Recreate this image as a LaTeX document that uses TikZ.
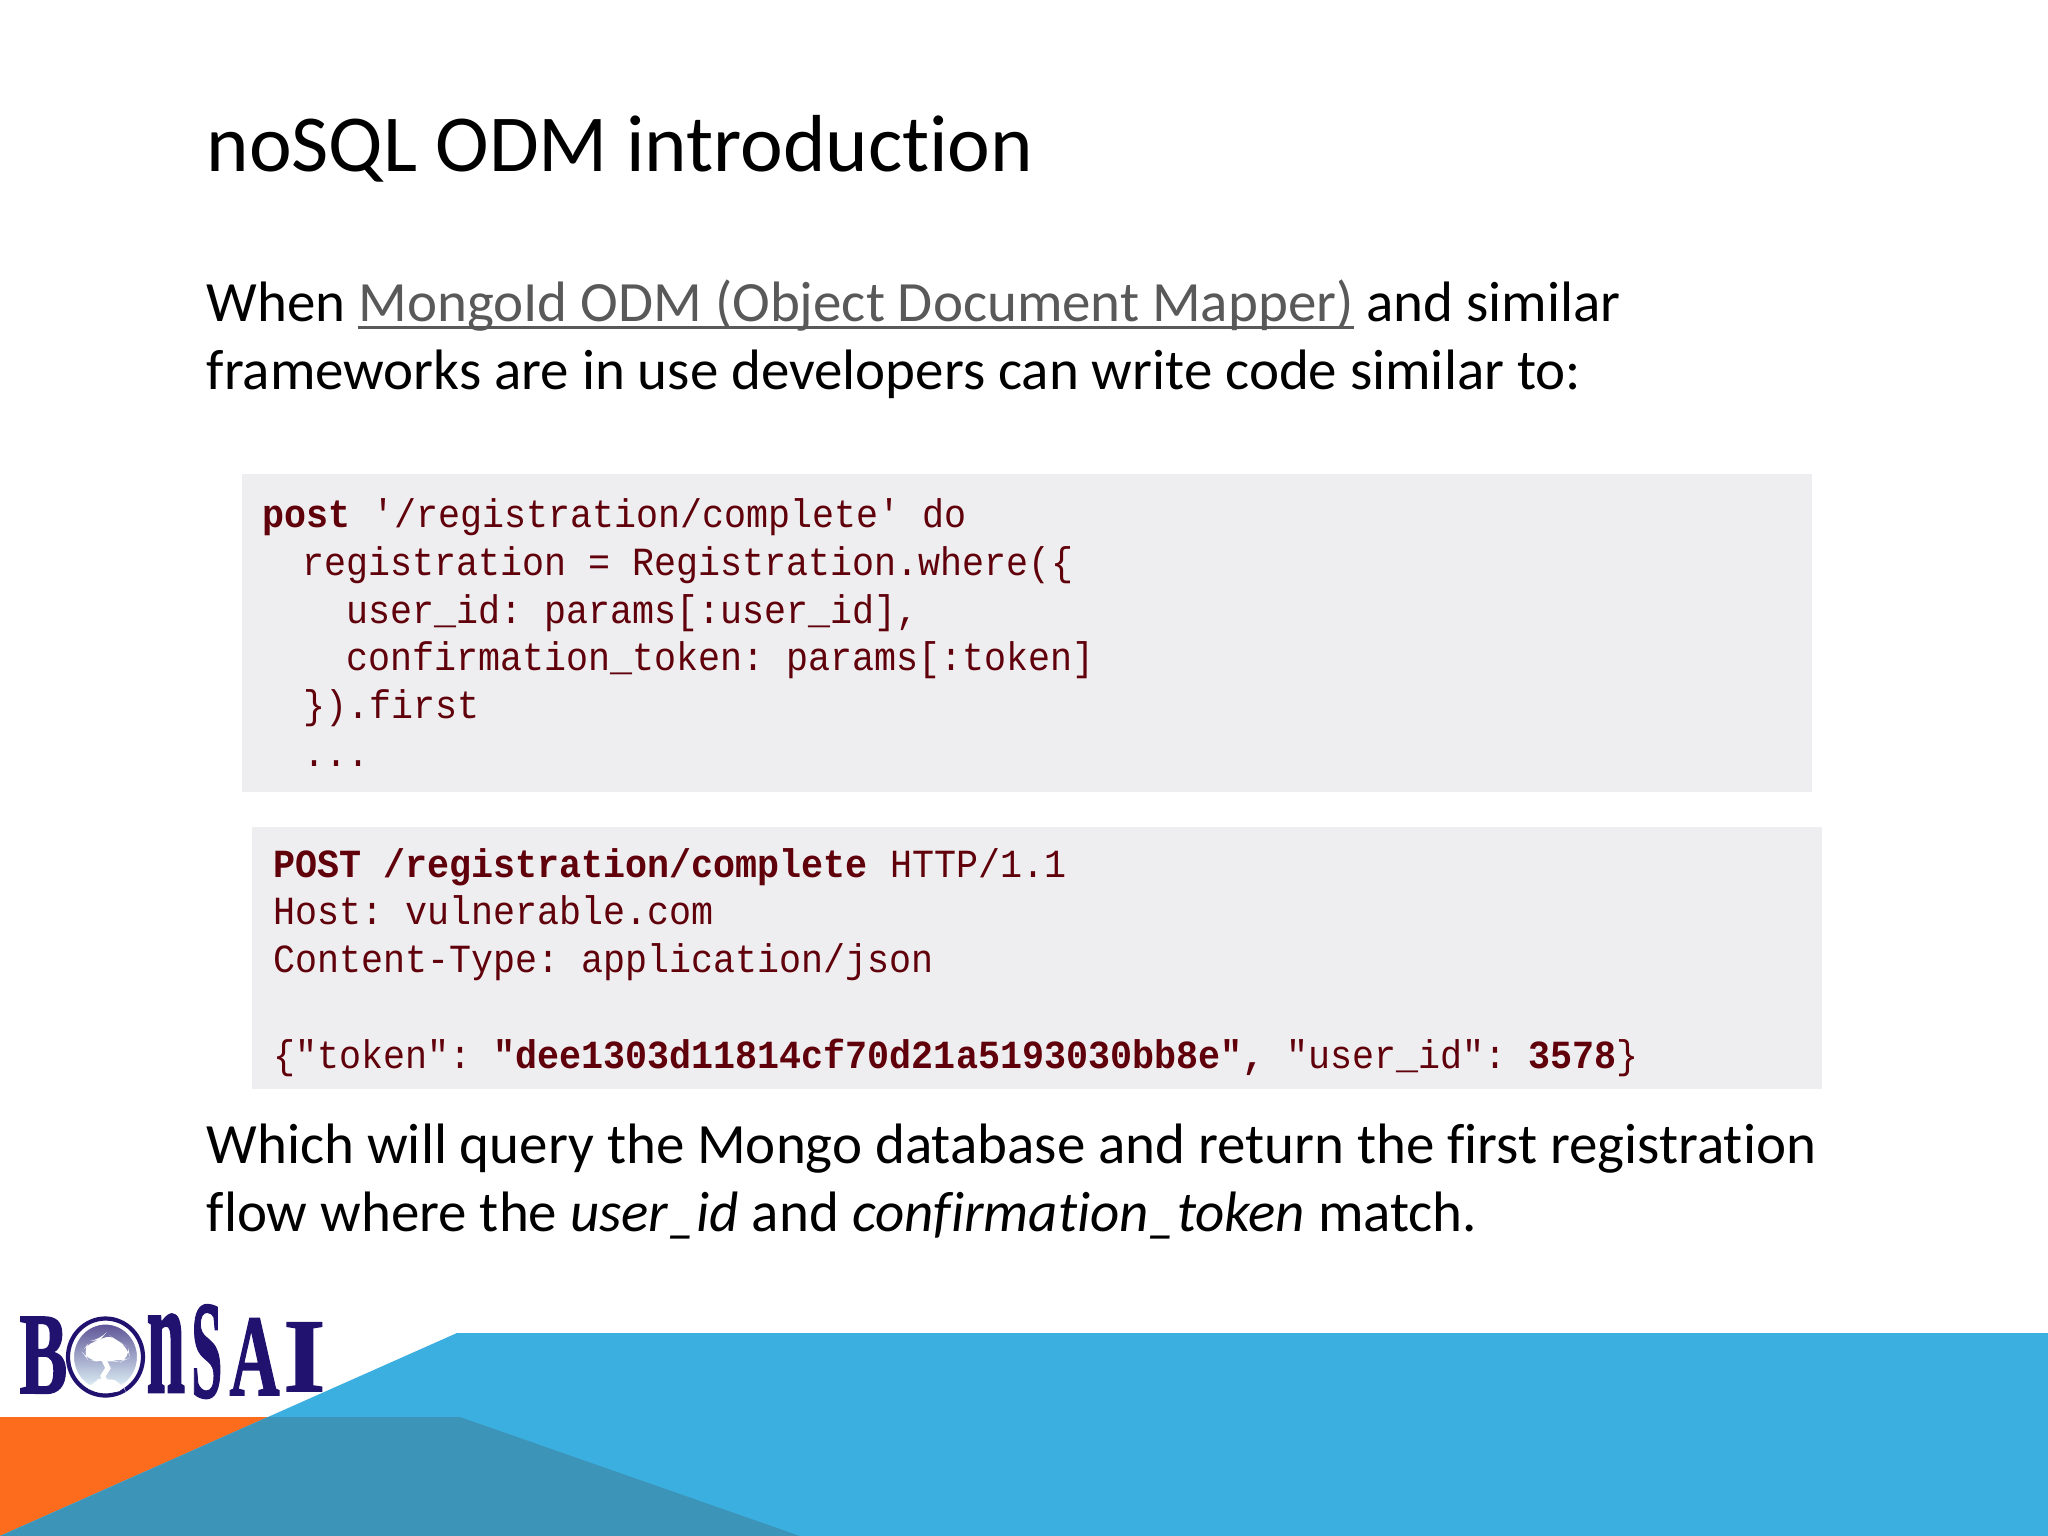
\documentclass[tikz,border=0pt]{standalone}
\usepackage{fontspec}
\setmainfont{Carlito}[Ligatures=NoCommon]
\setmonofont[FakeStretch=0.919]{Liberation Mono}
\newfontfamily\logofont{Liberation Serif}[FakeBold=1.5]
\usetikzlibrary{positioning}
\definecolor{skyblue}{RGB}{59,176,224}
\definecolor{darkteal}{RGB}{60,148,184}
\definecolor{slideorange}{RGB}{253,108,28}
\definecolor{codegrey}{RGB}{238,238,240}
\definecolor{codered}{RGB}{96,0,10}
\definecolor{linkgrey}{RGB}{89,89,89}
\definecolor{logonavy}{RGB}{32,18,110}
\newsavebox\linkbox
\newcommand{\slidelink}[1]{\sbox\linkbox{\color{linkgrey}#1}{\color{linkgrey}\rlap{\rule[-2.2pt]{\wd\linkbox}{0.85pt}}\usebox\linkbox}}
\tikzset{
    slidetext/.style={anchor=base west, inner sep=0pt, font=\fontsize{16.2}{19}\selectfont},
    titletext/.style={anchor=base west, inner sep=0pt, font=\fontsize{23}{28}\selectfont},
    codeline/.style={anchor=base west, inner sep=0pt, text=codered, font=\ttfamily\fontsize{11.35}{14}\selectfont},
    logoletter/.style={anchor=base west, inner sep=0pt, text=logonavy, transform shape, font=\logofont\bfseries\fontsize{33}{33}\selectfont}
}
\begin{document}
\begin{tikzpicture}[x=0.01cm, y=-0.01cm]
    \useasboundingbox (0,0) rectangle (2048,1536);
    % footer shapes
    \fill[slideorange] (0,1417) -- (268,1417) -- (0,1536) -- cycle;
    \fill[skyblue] (457,1333) -- (2048,1333) -- (2048,1536) -- (0,1536) -- cycle;
    \fill[darkteal] (268,1417) -- (460,1417) -- (800,1536) -- (0,1536) -- cycle;
    % code boxes
    \fill[codegrey] (242,474) rectangle (1812,792);
    \fill[codegrey] (252,827) rectangle (1822,1089);
    % title and text
    \node[titletext] (title) at (206,171) {noSQL ODM introduction};
    \node[slidetext] (introa) at (206,321) {When \slidelink{MongoId ODM (Object Document Mapper)} and similar};
    \node[slidetext] (introb) at (206,389.5) {frameworks are in use developers can write code similar to:};
    \node[slidetext] (outroa) at (206,1163.5) {Which will query the Mongo database and return the first registration};
    \node[slidetext] (outrob) at (206,1231.5) {flow where the \textit{user\_id} and \textit{confirmation\_token} match.};
    % ruby code
    \node[codeline] (rba) at (262,527) {\textbf{post} '/registration/complete' do};
    \node[codeline] (rbb) at (302,575) {registration = Registration.where(\{};
    \node[codeline] (rbc) at (346,623) {user\_id: params[:user\_id],};
    \node[codeline] (rbd) at (346,670) {confirmation\_token: params[:token]};
    \node[codeline] (rbe) at (303,718) {\}).first};
    \node[codeline] (rbf) at (303,766) {...};
    % http request
    \node[codeline] (reqa) at (273,877) {\textbf{POST /registration/complete} HTTP/1.1};
    \node[codeline] (reqb) at (273,924) {Host: vulnerable.com};
    \node[codeline] (reqc) at (273,972) {Content-Type: application/json};
    \node[codeline] (reqd) at (273,1068) {\{"token": \textbf{"dee1303d11814cf70d21a5193030bb8e",} "user\_id": \textbf{3578}\}};
    % logo
    \node[logoletter, xscale=0.62] (logob) at (19,1393) {B};
    \node[logoletter, xscale=0.6, yscale=1.42] (logon) at (146,1392) {n};
    \node[logoletter, xscale=0.48, yscale=1.2] (logos) at (191,1397) {S};
    \node[logoletter, xscale=0.6] (logoa) at (229,1395) {A};
    \node[logoletter, xscale=0.92, yscale=0.9] (logoi) at (283,1391) {I};
    \shade[top color=logonavy!75!white, middle color=logonavy!30!cyan!35!white, bottom color=cyan!8!white, draw=white, line width=2pt] (105.5,1357) ellipse (35 and 36);
    \draw[logonavy, line width=1.2pt] (105.5,1357) ellipse (37.5 and 38.5);
    % tree
    \fill[white, rounded corners=3pt] (82,1352) -- (90,1341) -- (100,1340) -- (106,1333) -- (118,1341) -- (128,1347) -- (130,1358) -- (120,1362) -- (112,1360) -- (100,1362) -- (88,1360) -- cycle;
    \draw[white, line width=1.4pt] (103,1358) -- (108,1368) -- (103,1376) -- (106,1384);
    \fill[white, rounded corners=3pt] (88,1392) -- (92,1380) -- (106,1378) -- (122,1382) -- (126,1392) -- cycle;
\end{tikzpicture}
\end{document}
